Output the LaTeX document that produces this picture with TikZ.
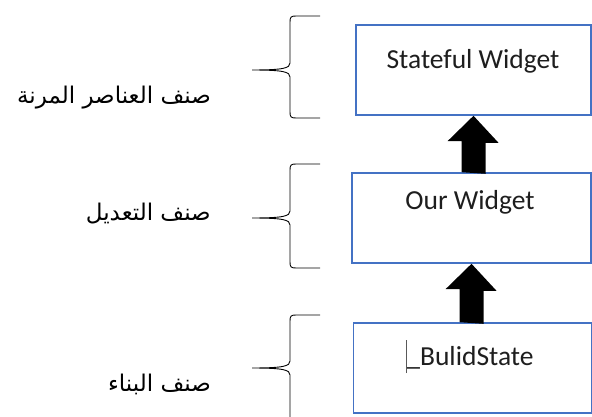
\documentclass[tikz,border=0pt]{standalone}
\usepackage{fontspec}
\setmainfont{Carlito}
\newfontfamily\arabicfont[Script=Arabic]{DejaVu Sans}
\TeXXeTstate=1
\definecolor{boxblue}{RGB}{68,114,196}
\definecolor{txt}{RGB}{30,30,30}
\tikzset{
  box/.style={draw=boxblue, line width=1.6pt, rectangle, inner sep=0pt, minimum height=90pt},
  lbl/.style={anchor=base, text=txt, font=\fontsize{27.5}{30}\selectfont, inner sep=0pt},
  arlbl/.style={anchor=base east, font=\arabicfont\fontsize{23}{26}\selectfont, inner sep=0pt},
  brc/.style={draw=black, line width=0.9pt},
  blockarrow/.style={fill=black}
}
\newcommand\mybrace[3]{%
  \path[brc] (320,#1) -- (296,#1) .. controls (291,#1) and (290,#1+1) .. (290,#1+6)
    -- (290,#2-7) .. controls (290,#2-2) and (284,#2) .. (252,#2)
    .. controls (284,#2) and (290,#2+2) .. (290,#2+7)
    -- (290,#3-6) .. controls (290,#3-1) and (291,#3) .. (296,#3) -- (320,#3);}
\begin{document}
\begin{tikzpicture}[x=1pt,y=-1pt]
\useasboundingbox (0,0) rectangle (592,417);
\clip (0,0) rectangle (592,417);
% boxes
\node[box, minimum width=235pt] (b1) at (473.5,70) {};
\node[box, minimum width=239pt] (b2) at (471.5,218) {};
\node[box, minimum width=238pt] (b3) at (472.5,368) {};
% box labels
\node[lbl] (t1) at (473,69) {Stateful Widget};
\node[lbl] (t2) at (470,210) {Our Widget};
\node[lbl] (t3) at (470,365) {\_BulidState};
\draw[line width=0.6pt, gray!70!black] ([xshift=0.5pt]t3.base west) ++(0,8) -- ++(0,-33);
% block arrows
\path[blockarrow] (b1.south |- b2.north) ++(-12,0) -- ++(0,-31) -- ++(-14,0) -- (b1.south)
  -- ++(25,27) -- ++(-13,0) -- ++(0,31) -- cycle;
\path[blockarrow] (b2.south |- b3.north) ++(-12,0) -- ++(0,-33) -- ++(-14,0) -- (b2.south)
  -- ++(25,27) -- ++(-13,0) -- ++(0,33) -- cycle;
% braces
\mybrace{16}{70}{118}
\mybrace{164}{218}{268}
\mybrace{315}{368}{470}
% arabic labels
\node[arlbl] (a1) at (211,104) {\beginR صنف العناصر المرنة\endR};
\node[arlbl] (a2) at (211,220) {\beginR صنف التعديل\endR};
\node[arlbl] (a3) at (211,391) {\beginR صنف البناء\endR};
\end{tikzpicture}
\end{document}
